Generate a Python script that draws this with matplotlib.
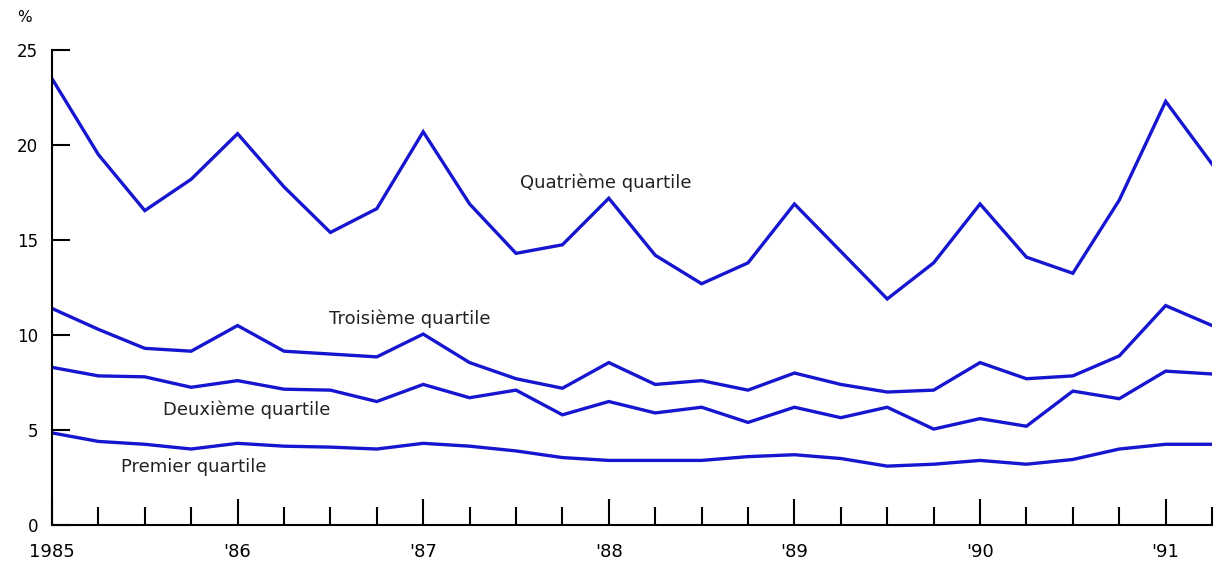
import numpy as np
import matplotlib.pyplot as plt

# quarterly values, 1985 Q1 .. 1991 Q2
quarters = np.arange(26)
years = 1985 + quarters * 0.25

quatrieme = [23.5, 19.5, 16.55, 18.2, 20.6, 17.8, 15.4, 16.65, 20.7, 16.9,
             14.3, 14.75, 17.2, 14.2, 12.7, 13.8, 16.9, 14.4, 11.9, 13.8,
             16.9, 14.1, 13.25, 17.1, 22.3, 19.0]
troisieme = [11.4, 10.3, 9.3, 9.15, 10.5, 9.15, 9.0, 8.85, 10.05, 8.55,
             7.7, 7.2, 8.55, 7.4, 7.6, 7.1, 8.0, 7.4, 7.0, 7.1,
             8.55, 7.7, 7.85, 8.9, 11.55, 10.5]
deuxieme = [8.3, 7.85, 7.8, 7.25, 7.6, 7.15, 7.1, 6.5, 7.4, 6.7,
            7.1, 5.8, 6.5, 5.9, 6.2, 5.4, 6.2, 5.65, 6.2, 5.05,
            5.6, 5.2, 7.05, 6.65, 8.1, 7.95]
premier = [4.85, 4.4, 4.25, 4.0, 4.3, 4.15, 4.1, 4.0, 4.3, 4.15,
           3.9, 3.55, 3.4, 3.4, 3.4, 3.6, 3.7, 3.5, 3.1, 3.2,
           3.4, 3.2, 3.45, 4.0, 4.25, 4.25]

year_ticks = [1985, 1986, 1987, 1988, 1989, 1990, 1991]
year_labels = ["1985", "'86", "'87", "'88", "'89", "'90", "'91"]

labels = [("Quatrième quartile", 1987.52, 18.0),
          ("Troisième quartile", 1986.49, 10.85),
          ("Deuxième quartile", 1985.6, 6.05),
          ("Premier quartile", 1985.37, 3.05)]

fig = plt.figure(figsize=(12.14, 5.69), dpi=100)
ax = fig.add_axes([0.0428, 0.0773, 0.9556, 0.8347])

col = '#1616d0'
for s in [quatrieme, troisieme, deuxieme, premier]:
    ax.plot(years, s, color=col, linewidth=2.4, solid_joinstyle='miter')

for txt, x, y in labels:
    ax.text(x, y, txt, fontsize=13, color='#222222', ha='left', va='center')

ax.set_xlim(1985, 1991.25)
ax.set_ylim(0, 25)
ax.spines['top'].set_visible(False)
ax.spines['right'].set_visible(False)
ax.spines['left'].set_linewidth(1.5)
ax.spines['bottom'].set_linewidth(1.5)

ax.set_yticks([0, 5, 10, 15, 20, 25])
ax.tick_params(axis='y', direction='in', length=13, width=1.5, labelsize=12, pad=10)
ax.set_xticks(year_ticks)
ax.set_xticklabels(year_labels)
ax.set_xticks(years, minor=True)
ax.tick_params(axis='x', which='major', direction='in', length=19, width=1.5, labelsize=13, pad=13)
ax.tick_params(axis='x', which='minor', direction='in', length=13, width=1.5)

fig.text(24 / 1214, 1 - 18 / 569, "%", fontsize=11, ha='center', va='center')

plt.savefig("out.png", dpi=100)
